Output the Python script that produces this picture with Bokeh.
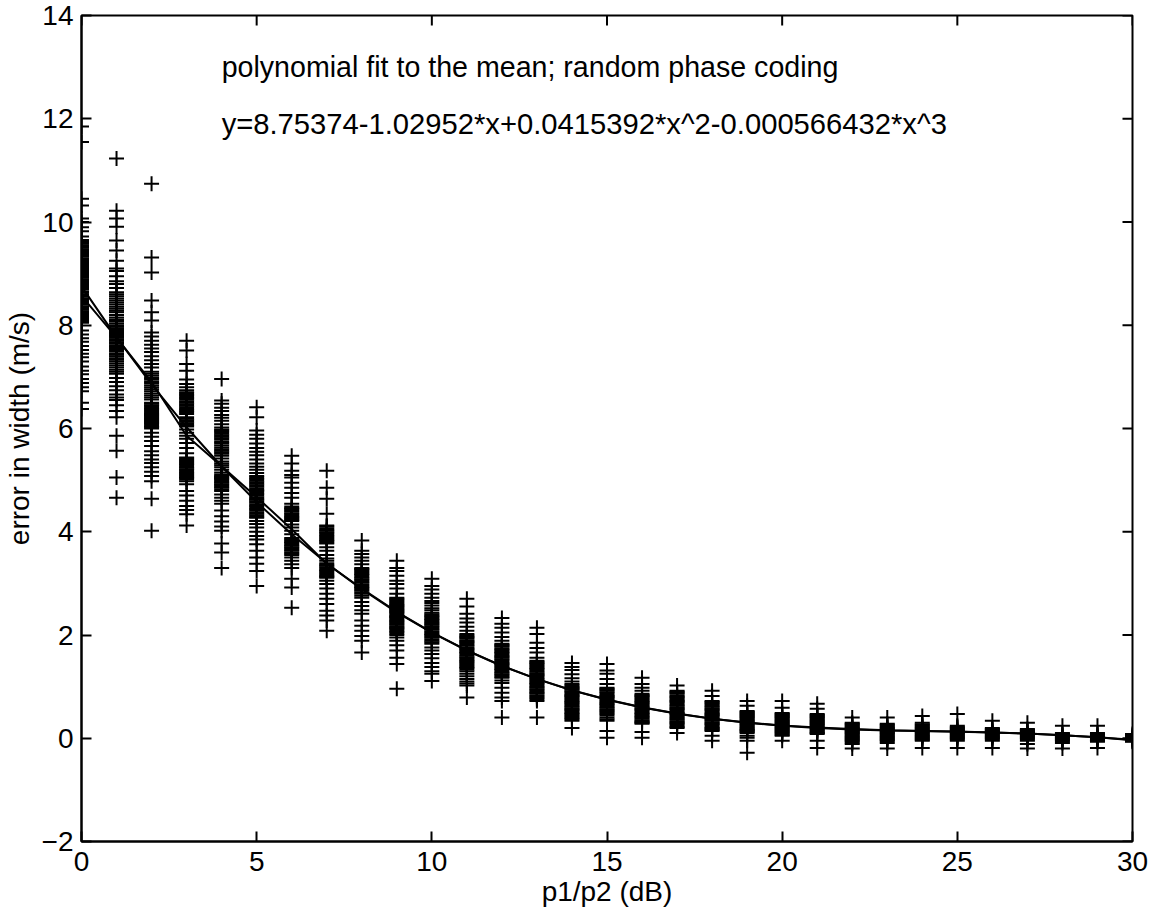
import math
from bokeh.plotting import figure
from bokeh.models import Range1d, FixedTicker
from bokeh.core.properties import value
from bokeh.embed import file_html
from bokeh.resources import INLINE

# ---- data ----
db_levels = list(range(0, 31))

col00 = [11.85, 11.55, 10.45, 10.32, 10.07, 10.0, 9.9, 9.82, 9.72, 9.65, 9.6, 9.55, 9.5, 9.45, 9.42, 9.38, 9.33,
         9.28, 9.24, 9.2, 9.15, 9.1, 9.05, 9.0, 8.96, 8.92, 8.87, 8.82, 8.78, 8.74, 8.7, 8.6, 8.55, 8.5, 8.45,
         8.4, 8.35, 8.3, 8.25, 8.2, 8.12, 8.05, 7.9, 7.82, 7.75, 7.68, 7.6, 7.52, 7.45, 7.38, 7.3, 7.2, 7.12,
         7.05, 6.96, 6.88, 6.8, 6.72, 6.5, 6.38,
         9.62, 9.58, 9.52, 9.47, 9.35, 9.3, 9.26, 9.22, 9.17, 9.12, 9.07, 9.02, 8.98, 8.94, 8.89, 8.84, 8.8,
         8.76, 8.72, 8.66, 8.63, 8.58, 8.52, 8.47, 8.42, 8.37, 8.32, 8.27, 8.22, 8.16, 8.08]
col01 = [11.23, 10.22, 10.07, 9.91, 9.64, 9.45, 9.25, 9.1, 9.05, 8.95, 8.85, 8.8, 8.72, 8.64, 8.56, 8.48, 8.4,
         8.32, 8.25, 8.15, 8.08, 8.0, 7.94, 7.88, 7.82, 7.76, 7.7, 7.64, 7.58, 7.5, 7.43, 7.36, 7.3, 7.22, 7.14,
         7.06, 6.98, 6.9, 6.82, 6.74, 6.66, 6.6, 6.55, 6.45, 6.34, 6.22, 5.86, 5.57, 5.05, 4.66,
         8.6, 8.52, 8.44, 8.36, 8.28, 8.2, 8.11, 8.04, 7.97, 7.91, 7.85, 7.79, 7.73, 7.67, 7.61, 7.54, 7.46,
         7.4, 7.33, 7.26, 7.18, 7.1]
col02 = [10.74, 9.31, 9.02, 8.48, 8.25, 8.09, 7.86, 7.78, 7.7, 7.62, 7.55, 7.48, 7.4, 7.32, 7.25, 7.18, 7.1,
         7.02, 6.95, 6.88, 6.8, 6.72, 6.64, 6.56, 6.5, 6.45, 6.4, 6.35, 6.3, 6.26, 6.22, 6.18, 6.14, 6.1, 6.05,
         6.0, 5.92, 5.84, 5.76, 5.66, 5.56, 5.48, 5.4, 5.33, 5.25, 5.16, 5.08, 4.98, 4.64, 4.02,
         6.48, 6.43, 6.38, 6.33, 6.28, 6.24, 6.2, 6.16, 6.12, 6.08, 6.03, 7.06, 6.98, 6.91, 6.84, 6.76, 6.68, 6.6]
col03 = [7.70, 7.51, 7.25, 7.12, 6.95, 6.86, 6.8, 6.74, 6.68, 6.62, 6.56, 6.5, 6.44, 6.38, 6.32, 6.28, 6.22,
         6.16, 6.1, 6.04, 5.98, 5.92, 5.86, 5.8, 5.72, 5.62, 5.52, 5.44, 5.39, 5.34, 5.29, 5.24, 5.19, 5.14,
         5.09, 5.04, 4.98, 4.92, 4.79, 4.7, 4.6, 4.5, 4.42, 4.34, 4.12,
         6.7, 6.65, 6.59, 6.53, 6.47, 6.41, 6.35, 6.19, 6.13, 6.07, 5.42, 5.36, 5.31, 5.26, 5.21, 5.16, 5.11,
         5.06, 5.01]
col04 = [6.96, 6.54, 6.48, 6.4, 6.34, 6.26, 6.21, 6.15, 6.08, 6.02, 5.96, 5.9, 5.84, 5.78, 5.71, 5.63, 5.57,
         5.51, 5.42, 5.36, 5.32, 5.25, 5.15, 5.08, 5.04, 5.0, 4.95, 4.9, 4.85, 4.79, 4.72, 4.66, 4.6, 4.54,
         4.41, 4.3, 4.2, 4.1, 4.02, 3.77, 3.6, 3.3,
         5.98, 5.93, 5.87, 5.81, 5.74, 5.67, 5.6, 5.54, 5.47, 5.29, 5.2, 5.11, 5.06, 5.02, 4.97, 4.92, 4.87, 4.82]
col05 = [6.41, 6.22, 5.96, 5.88, 5.8, 5.71, 5.62, 5.55, 5.48, 5.4, 5.32, 5.26, 5.2, 5.14, 5.08, 5.02, 4.96,
         4.9, 4.84, 4.79, 4.73, 4.67, 4.62, 4.56, 4.5, 4.44, 4.38, 4.32, 4.27, 4.21, 4.15, 4.08, 4.0, 3.92,
         3.85, 3.76, 3.63, 3.5, 3.38, 3.24, 2.95,
         5.05, 4.99, 4.93, 4.87, 4.81, 4.76, 4.7, 4.64, 4.59, 4.53, 4.47, 4.41, 4.35, 4.29]
col06 = [5.47, 5.32, 5.18, 5.1, 5.05, 4.95, 4.85, 4.75, 4.66, 4.54, 4.49, 4.44, 4.39, 4.34, 4.29, 4.25, 4.21,
         4.14, 4.08, 4.02, 3.95, 3.88, 3.83, 3.78, 3.73, 3.68, 3.63, 3.58, 3.5, 3.44, 3.37, 3.3, 3.09, 2.92, 2.53,
         4.46, 4.41, 4.36, 4.31, 4.27, 4.23, 3.85, 3.8, 3.75, 3.7, 3.65, 3.6, 3.55]
col07 = [5.18, 4.85, 4.64, 4.35, 4.12, 4.07, 4.02, 3.97, 3.92, 3.87, 3.82, 3.77, 3.7, 3.63, 3.55, 3.48, 3.44,
         3.39, 3.34, 3.29, 3.24, 3.19, 3.14, 3.11, 3.05, 2.99, 2.9, 2.8, 2.7, 2.6, 2.47, 2.38, 2.28, 2.08,
         4.1, 4.04, 3.99, 3.94, 3.89, 3.84, 3.79, 3.36, 3.31, 3.26, 3.21, 3.16, 3.13]
col08 = [3.83, 3.63, 3.57, 3.5, 3.44, 3.37, 3.3, 3.26, 3.21, 3.16, 3.11, 3.06, 3.01, 2.96, 2.91, 2.86, 2.8,
         2.72, 2.64, 2.56, 2.48, 2.41, 2.28, 2.18, 2.08, 1.98, 1.89, 1.66,
         3.28, 3.23, 3.18, 3.13, 3.08, 3.03, 2.98, 2.93, 2.88, 2.83, 2.76]
col09 = [3.44, 3.30, 3.24, 3.15, 3.05, 2.99, 2.9, 2.8, 2.72, 2.68, 2.63, 2.58, 2.54, 2.5, 2.46, 2.42, 2.37,
         2.33, 2.28, 2.24, 2.2, 2.15, 2.11, 2.06, 2.0, 1.95, 1.89, 1.8, 1.7, 1.56, 1.44, 0.96,
         2.7, 2.65, 2.6, 2.56, 2.52, 2.48, 2.44, 2.39, 2.35, 2.3, 2.26, 2.22, 2.17, 2.13, 2.08, 2.03]
col10 = [3.09, 2.95, 2.88, 2.8, 2.72, 2.66, 2.62, 2.57, 2.52, 2.48, 2.43, 2.38, 2.34, 2.29, 2.24, 2.2, 2.15,
         2.1, 2.05, 2.0, 1.95, 1.89, 1.83, 1.76, 1.7, 1.63, 1.55, 1.46, 1.38, 1.3, 1.25, 1.11,
         2.4, 2.36, 2.31, 2.26, 2.22, 2.17, 2.12, 2.07, 2.02, 1.97, 1.92, 1.86]
col11 = [2.70, 2.55, 2.41, 2.32, 2.24, 2.16, 2.08, 2.02, 1.97, 1.93, 1.88, 1.84, 1.79, 1.74, 1.7, 1.65, 1.6,
         1.55, 1.5, 1.46, 1.41, 1.36, 1.3, 1.2, 1.1, 1.02, 0.79,
         1.99, 1.95, 1.9, 1.86, 1.81, 1.76, 1.72, 1.67, 1.62, 1.57, 1.52, 1.48, 1.43, 1.38, 1.33, 1.25, 1.15, 1.06]
col12 = [2.33, 2.22, 2.14, 2.05, 1.96, 1.89, 1.83, 1.79, 1.74, 1.7, 1.65, 1.6, 1.56, 1.51, 1.46, 1.42, 1.37,
         1.32, 1.27, 1.22, 1.17, 1.07, 0.98, 0.88, 0.79, 0.72, 0.40,
         1.81, 1.77, 1.72, 1.67, 1.62, 1.58, 1.53, 1.48, 1.44, 1.39, 1.34, 1.29, 1.24, 1.19, 1.12]
col13 = [2.14, 2.02, 1.85, 1.75, 1.66, 1.56, 1.5, 1.46, 1.41, 1.36, 1.31, 1.26, 1.22, 1.17, 1.12, 1.07, 1.02,
         0.98, 0.93, 0.88, 0.83, 0.78, 0.72, 0.40,
         1.48, 1.44, 1.39, 1.34, 1.29, 1.24, 1.2, 1.15, 1.1, 1.05, 1.0, 0.95, 0.9, 0.86, 0.81, 0.75]
col14 = [1.46, 1.38, 1.32, 1.24, 1.16, 1.1, 1.05, 1.0, 0.96, 0.91, 0.86, 0.82, 0.77, 0.72, 0.68, 0.63, 0.58,
         0.54, 0.49, 0.44, 0.39, 0.34, 0.2,
         1.02, 0.98, 0.94, 0.89, 0.84, 0.8, 0.75, 0.7, 0.66, 0.61, 0.56, 0.52, 0.47, 0.42, 0.37]
col15 = [1.44, 1.31, 1.25, 1.15, 1.05, 0.98, 0.94, 0.89, 0.84, 0.8, 0.75, 0.7, 0.66, 0.61, 0.56, 0.52, 0.47,
         0.4, 0.34, 0.14, 0.01,
         0.96, 0.92, 0.87, 0.82, 0.78, 0.73, 0.68, 0.64, 0.59, 0.54, 0.5, 0.44, 0.37]
col16 = [1.17, 1.05, 0.98, 0.92, 0.86, 0.82, 0.77, 0.72, 0.68, 0.63, 0.58, 0.54, 0.49, 0.44, 0.4, 0.35, 0.31,
         0.28, 0.12, 0.01,
         0.84, 0.8, 0.75, 0.7, 0.66, 0.61, 0.56, 0.52, 0.47, 0.42, 0.38, 0.33, 0.3]
col17 = [1.02, 0.92, 0.88, 0.83, 0.79, 0.74, 0.7, 0.65, 0.6, 0.56, 0.51, 0.47, 0.42, 0.38, 0.33, 0.29, 0.24,
         0.2, 0.10,
         0.9, 0.86, 0.81, 0.77, 0.72, 0.68, 0.63, 0.58, 0.54, 0.49, 0.45, 0.4, 0.36, 0.31, 0.27, 0.22]
col18 = [0.92, 0.82, 0.72, 0.68, 0.63, 0.58, 0.54, 0.49, 0.45, 0.4, 0.36, 0.31, 0.27, 0.22, 0.18, 0.14, 0.05, -0.05,
         0.7, 0.66, 0.61, 0.56, 0.52, 0.47, 0.43, 0.38, 0.34, 0.29, 0.25, 0.2, 0.16]
col19 = [0.72, 0.63, 0.53, 0.49, 0.45, 0.41, 0.37, 0.33, 0.29, 0.25, 0.21, 0.17, 0.14, 0.1, 0.05, 0.01, -0.05, -0.28,
         0.51, 0.47, 0.43, 0.39, 0.35, 0.31, 0.27, 0.23, 0.19, 0.16, 0.12]
col20 = [0.72, 0.59, 0.49, 0.45, 0.41, 0.37, 0.33, 0.29, 0.25, 0.21, 0.17, 0.13, 0.09, 0.05, -0.05,
         0.47, 0.43, 0.39, 0.35, 0.31, 0.27, 0.23, 0.19, 0.15, 0.11, 0.07]
col21 = [0.67, 0.57, 0.47, 0.43, 0.39, 0.35, 0.31, 0.27, 0.23, 0.19, 0.15, 0.11, 0.08, -0.05, -0.19,
         0.45, 0.41, 0.37, 0.33, 0.29, 0.25, 0.21, 0.17, 0.13, 0.1]
col22 = [0.40, 0.30, 0.26, 0.22, 0.18, 0.14, 0.1, 0.06, 0.02, -0.02, -0.06, -0.11, -0.2,
         0.28, 0.24, 0.2, 0.16, 0.12, 0.08, 0.04, 0.0, -0.04, -0.08]
col23 = [0.40, 0.28, 0.24, 0.2, 0.16, 0.12, 0.08, 0.04, 0.0, -0.04, -0.09, -0.2,
         0.26, 0.22, 0.18, 0.14, 0.1, 0.06, 0.02, -0.02, -0.06]
col24 = [0.43, 0.3, 0.27, 0.23, 0.19, 0.15, 0.11, 0.07, 0.03, -0.01, -0.05, -0.19,
         0.25, 0.21, 0.17, 0.13, 0.09, 0.05, 0.01, -0.03]
col25 = [0.47, 0.24, 0.2, 0.16, 0.12, 0.08, 0.04, 0.0, -0.05, -0.19,
         0.22, 0.18, 0.14, 0.1, 0.06, 0.02, -0.02]
col26 = [0.34, 0.2, 0.16, 0.12, 0.08, 0.04, 0.0, -0.05, -0.19,
         0.18, 0.14, 0.1, 0.06, 0.02, -0.02]
col27 = [0.30, 0.18, 0.14, 0.1, 0.06, 0.02, -0.02, -0.05, -0.11, -0.2,
         0.16, 0.12, 0.08, 0.04, 0.0]
col28 = [0.24, 0.10, 0.06, 0.02, -0.02, -0.06, -0.09, -0.2,
         0.08, 0.04, 0.0, -0.04]
col29 = [0.24, 0.1, 0.06, 0.02, -0.02, -0.05, -0.07, -0.19,
         0.08, 0.04, 0.0, -0.04]
col30 = [0.08, 0.04, 0.0, -0.04, -0.07, 0.06, 0.02, -0.02, -0.06]

columns = [col00, col01, col02, col03, col04, col05, col06, col07, col08, col09, col10,
           col11, col12, col13, col14, col15, col16, col17, col18, col19, col20,
           col21, col22, col23, col24, col25, col26, col27, col28, col29, col30]

mean_error = [8.57, 7.76, 6.9, 5.86, 5.27, 4.67, 4.05, 3.38, 2.9, 2.45, 2.05, 1.7, 1.4, 1.15, 0.93,
              0.75, 0.6, 0.48, 0.38, 0.3, 0.24, 0.2, 0.17, 0.15, 0.14, 0.13, 0.11, 0.09, 0.06, 0.02, -0.03]

fit_coeffs = [8.75374, -1.02952, 0.0415392, -0.000566432]   # from the printed equation

title_line1 = "polynomial fit to the mean; random phase coding"
title_line2 = "y=8.75374-1.02952*x+0.0415392*x^2-0.000566432*x^3"

x_ticks = [0, 5, 10, 15, 20, 25, 30]
y_ticks = [-2, 0, 2, 4, 6, 8, 10, 12, 14]
x_lim = (0, 30)
y_lim = (-2, 14)

# ---- build ----
pts_x, pts_y = [], []
for lvl, col in zip(db_levels, columns):
    pts_x.extend([lvl] * len(col))
    pts_y.extend(col)

fit_vals = [sum(c * (xv ** k) for k, c in enumerate(fit_coeffs)) for xv in db_levels]

FONT = "Liberation Sans"

p = figure(width=1153, height=916, output_backend="svg", toolbar_location=None,
           x_range=Range1d(*x_lim), y_range=Range1d(*y_lim),
           min_border_left=81, min_border_right=21, min_border_top=15, min_border_bottom=75)
p.background_fill_color = "white"
p.border_fill_color = "white"
p.outline_line_color = "black"
p.outline_line_width = 2
p.outline_line_alpha = 1.0
p.grid.visible = False

def style_axis(ax, ticks):
    ax.ticker = FixedTicker(ticks=ticks)
    ax.major_tick_in = 10
    ax.major_tick_out = 0
    ax.minor_tick_line_color = None
    ax.axis_line_color = "black"
    ax.axis_line_width = 2
    ax.major_tick_line_color = "black"
    ax.major_tick_line_width = 2
    ax.major_label_text_font = FONT
    ax.major_label_text_font_size = "28px"
    ax.major_label_text_color = "black"
    ax.axis_label_text_font = FONT
    ax.axis_label_text_font_size = "28px"
    ax.axis_label_text_font_style = "normal"
    ax.axis_label_text_color = "black"

style_axis(p.xaxis[0], x_ticks)
p.xaxis[0].axis_label = "p1/p2 (dB)"
p.xaxis[0].major_label_standoff = 10
p.xaxis[0].axis_label_standoff = 2

style_axis(p.yaxis[0], y_ticks)
p.yaxis[0].axis_label = "error in width (m/s)"
p.yaxis[0].major_label_standoff = 8
p.yaxis[0].axis_label_standoff = 4

# box ticks on the top and right edges (half of each dash is clipped by the frame)
p.scatter(x_ticks, [y_lim[1]] * len(x_ticks), marker="dash", angle=math.pi / 2, size=20,
          line_color="black", line_width=2)
p.scatter([x_lim[1]] * len(y_ticks), y_ticks, marker="dash", size=20,
          line_color="black", line_width=2)

p.scatter(pts_x, pts_y, marker="cross", size=15, line_color="black", line_width=2)
p.line(db_levels, fit_vals, line_color="black", line_width=2)
p.line(db_levels, mean_error, line_color="black", line_width=2)

p.text(x=[4], y=[13], text=[title_line1], text_font=value(FONT), text_font_size="28.6px",
       text_baseline="middle", text_align="left", text_color="black")
p.text(x=[4], y=[11.9], text=[title_line2], text_font=value(FONT), text_font_size="29.2px",
       text_baseline="middle", text_align="left", text_color="black")

open("out.html", "w").write(file_html(p, INLINE))
